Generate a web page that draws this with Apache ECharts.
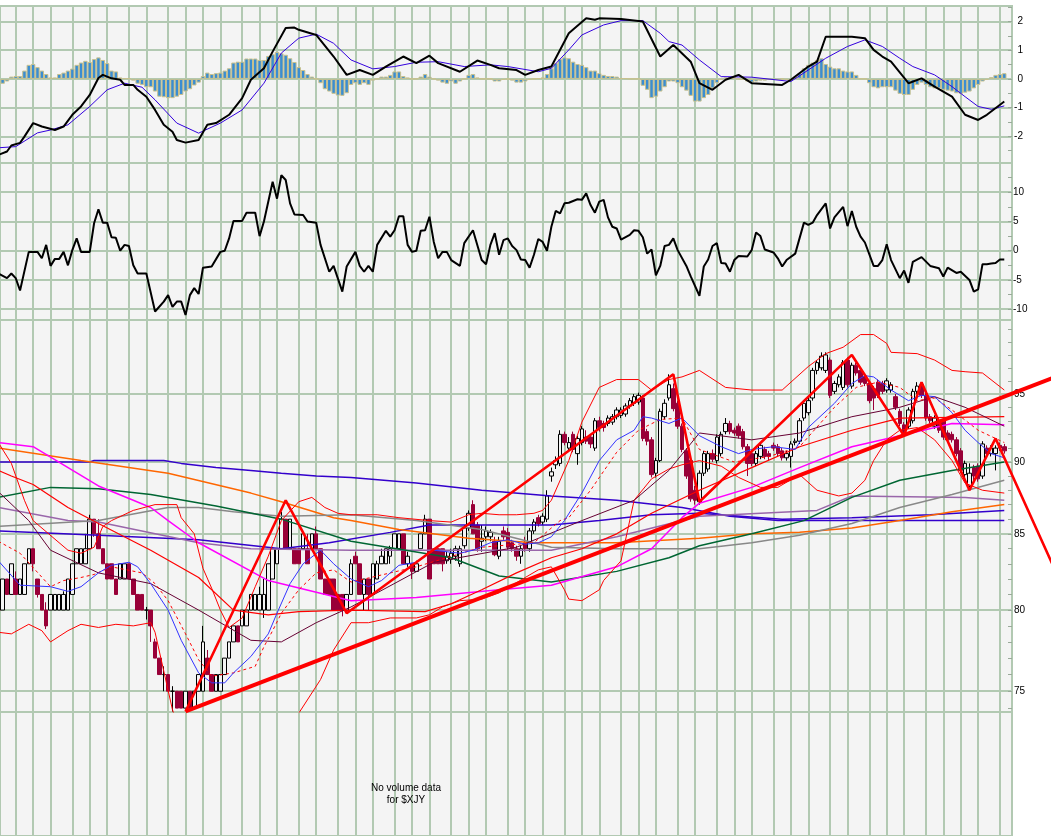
<!DOCTYPE html>
<html><head><meta charset="utf-8">
<script src="https://cdn.jsdelivr.net/npm/echarts@6/dist/echarts.min.js"></script>
<style>html,body{margin:0;padding:0;background:#fff}#c{width:1051px;height:836px}</style>
</head><body><div id="c"></div>
<script>
// ---------- tick labels ----------
const macdTicks = [-2, -1, 0, 1, 2];
const macdMinor = [-2.5, -1.5, -0.5, 0.5, 1.5, 2.5];
const oscTicks = [-10, -5, 0, 5, 10];
const oscMinor = [-7.5, -2.5, 2.5, 7.5, 12.5];
const priceTicks = [75, 80, 85, 90, 95];
const priceMinor = [74,76,77,78,79,81,82,83,84,86,87,88,89,91,92,93,94,96,97,98,99,100];
// bar indices where the vertical grid lines fall
const weekLines = [4,8,12,17,21,25,30,34,39,43,47,51,56,60,64,69,73,78,82,86,91,95,99,104,108,112,117,121,125,130,134,138,143,147,151,156,160,165,169,173,178,182,186,191,195,200,204,208,213,217,221,225,230];

// ---------- price candles [open, close, low, high], one per bar ----------
const candles = [
[81,80,79.6,81.5],[80,82,80,82],[82,81,81,82],[81,83,81,83],[82,81,81,82.5],[81,82,81,82],[81,83,81,83],[83,84,83,84],[84,83,82.5,84],[82,81,80.8,82],
[81,80,80,81],[80,79,78.8,80.5],[80,81,80,81],[80,81,80,81],[80,81,80,81],[80,81,80,81.2],[80,82,80,82],[81,83,81,83],[83,84,83,84],[83,84,83,84],
[83,84,83,85],[84,86,84,86.3],[86,85,84.8,86],[85,84,84,86],[84,83,83,84],[83,82,82,83],[83,82,82,83],[82,81,81,82],[82,83,82,83],[82,83,82,83],
[83,82,82,83],[82,81,81,82],[81,80,80,81],[81,80,80,81],[80,80,79.4,80.2],[80,79,78,80],[78,77,77,78.2],[77,76,76,77],[76,76,75,76.5],[76,75,75,76],
[75,75,73.8,75.3],[75,74,74,75],[75,74,74,75],[74,75,74,75],[75,74,74,75],[74,75,74,75],[75,76,75,76],[75,78,75,79],[77,76,76,77.5],[76,75,75,76],
[75,76,75,76],[75,76,75,76],[76,77,76,77],[77,78,77,78],[78,79,78,79],[79,78,78,79],[79,80,79,80],[79,80,79,80],[80,81,80,81],[80,81,80,81],
[80,81,80,81.5],[80,81,79.5,82],[80,83,80,83],[82,84,82,84],[83,84,83,84],[84,86,84,86.5],[86,84,84,86],[84,86,84,86],[84,83,83,84],[84,83,83,84],
[84,85,84,85],[84,83,83,85],[84,85,84,85],[85,84,84,85.5],[84,82,82,84],[82,81,81,82],[82,81,81,82],[82,80,80,82],[81,80,80,81],[81,80,79.6,81],
[80,81,80,81],[81,83,81,83.3],[83.5,83,83,83.8],[83,81,81,83],[81,82,80,82],[82,81,80,82],[81,83,81,83],[82,83,82,83.2],[83,83.5,83,84],[83,84,83,84],
[83.5,84,83,84.2],[84,85,84,85],[84,85,84,85],[85,83,83,85],[83,83.5,82.8,83.8],[83,82.5,82,83],[82.5,83,82.5,83.2],[84,85,84,85],[85,86,85,86.3],[86,82,82,86],
[84,83,83,84],[84,83,83,84],[84,83,82.5,84],[83.2,83.5,83,83.8],[83.3,83.7,83,84],[83.5,84,83.2,84.2],[83,84,82.8,84.2],[84.2,85.4,84,85.6],[85.4,86.4,85.2,86.6],[87,85,85,87.3],
[85.6,84,83.8,85.8],[84.5,84.7,83.8,85.6],[84.8,85.2,84.5,85.5],[84.8,85.1,84.5,85.3],[84.5,83.6,83.5,84.8],[83.5,84.5,83.3,84.8],[85.2,84.8,84.6,85.5],[85.1,84.1,83.9,85.4],[84.4,84,83.8,84.6],[84,83.5,83.2,84.2],
[83.5,84,83,84.2],[84.4,84,83.8,84.8],[84,85.2,83.8,85.4],[85.2,85.8,85,86],[86.1,85.7,85.5,86.3],[85.8,86.2,85.6,86.4],[86,87.6,85.8,88],[89,89.3,88.6,89.6],[89.8,90.1,89.5,90.4],[89.9,92,89.7,92.3],
[92,91.4,91.2,92.2],[91,91.4,90.8,91.8],[92,90.9,90.7,92.2],[90.6,91.7,89.8,91.9],[91.4,92.4,91.2,92.6],[91.8,91.5,91.3,92.3],[91.8,91.3,91,92],[91,93,90.8,93.2],[93,92.5,92.2,93.3],[92.8,92.5,92.2,93],
[92.8,93.2,92.6,93.4],[92.9,93.3,92.7,93.5],[93.3,93.8,93.1,94],[93.4,93.8,93.2,94],[93.5,94.1,93.3,94.3],[94.1,94.5,93.9,94.7],[94.3,94.8,94.1,95],[94.4,94.9,94.2,95.1],[94.7,91.7,91.5,94.9],[92.2,91.5,91.2,92.4],
[91.6,89.1,88.9,91.8],[89.2,90.1,88.9,90.3],[90.1,93.7,90,93.9],[93.3,94.3,93.1,94.6],[94.7,95.7,94.5,96.5],[95.4,93.9,93.7,95.8],[94.3,92.6,92.4,94.5],[92.6,90.9,90.7,92.8],[90.8,89,88.8,91],[90.1,87.4,87.2,90.3],
[88,87.3,87,88.3],[87.2,89.2,87,89.4],[89.2,90.6,89,90.8],[89.5,90.6,89.3,90.8],[90.6,90.2,90,90.9],[90.1,91.8,89.9,92],[90.6,92,90.4,92.2],[92.2,92.8,92,93.2],[92.8,92.2,92,93],[92.3,92.1,91.9,92.5],
[92.6,91.9,91.7,92.8],[92.2,91.1,90.9,92.4],[91.1,89.9,89,91.3],[90.6,89.9,89.7,90.8],[89.9,90.6,89.7,90.8],[90.4,91.2,90.2,91.4],[90.9,90.4,90.2,91.1],[90.6,90.4,90.1,90.8],[91.2,91,90.8,91.4],[91.1,90.6,90.4,91.3],
[90.8,90.3,90.1,91],[90.3,90.6,90.1,90.8],[90.4,91.3,89.6,91.5],[91.4,91.5,91.2,91.7],[91.5,93,91.3,93.2],[93.2,94.3,93,94.5],[93.6,94.5,93.4,94.8],[94.7,96.8,94.5,97],[96.8,97.4,96.5,97.6],[97,97.9,96.8,98.2],
[96.8,98,96.6,98.2],[97.6,94.9,94.7,97.8],[95.2,95.8,95,96],[95.7,96.3,95.5,96.5],[95.5,97.4,95.3,97.6],[97.6,95.7,95.5,97.8],[95.6,97.2,95.4,97.4],[97.2,96.6,96.4,97.4],[96.8,95.9,95.7,97],[96.3,95.8,95.6,96.5],
[95.8,94.5,94.3,96],[95.4,94.7,93.8,95.6],[95.9,94.9,94.7,96.1],[95.8,95.2,95,96],[95.3,96,95.1,96.2],[95.3,95.7,95.1,95.9],[94.8,94,93.8,95],[93.7,92.8,92.6,93.9],[92.7,92.2,92,92.9],[92.6,93.8,92.4,94],
[93,95.2,92.8,95.4],[95.2,95.6,95,95.9],[95.7,94.9,94.7,95.9],[94.9,93.2,93,95.1],[93.3,93,92.8,93.5],[92.6,93.2,92.4,93.4],[93,92.3,92.1,93.2],[93,91.8,91.6,93.2],[92.1,91.6,91.4,92.3],[92,91.6,91.4,92.2],
[91.6,90.6,90.4,91.8],[90.8,89.4,89.2,91],[89.1,89.9,88.9,90.1],[88.3,89.2,88,89.9],[89.6,89,88.5,89.8],[89.7,88.8,88.6,89.9],[89,91.3,88.8,91.5],[91,90.6,90.4,91.2],[90.6,91,90.4,91.2],[90.6,91,89.4,91.2],
[91.2,91,90.8,91.4],[91.1,90.8,90.6,91.3]
];

// ---------- MACD panel ----------
const macdHist = [
-0.17,-0.17,-0.09,0.08,0.1,0.1,0.29,0.49,0.52,0.41,
0.29,0.17,0.05,0.05,0.17,0.22,0.29,0.36,0.49,0.57,
0.63,0.59,0.69,0.75,0.66,0.55,0.29,0.26,0.05,0.02,
0.02,-0.06,-0.17,-0.21,-0.29,-0.29,-0.44,-0.62,-0.64,-0.67,
-0.67,-0.62,-0.56,-0.44,-0.36,-0.23,-0.13,0.1,0.22,0.17,
0.2,0.22,0.29,0.37,0.57,0.6,0.6,0.71,0.71,0.71,
0.66,0.66,0.8,0.86,0.94,0.89,0.84,0.72,0.59,0.41,
0.31,0.17,0.08,0,-0.15,-0.36,-0.44,-0.52,-0.58,-0.59,
-0.5,-0.21,-0.15,-0.21,-0.15,-0.21,-0.06,0,0.08,0.08,
0.14,0.26,0.26,0.1,0.05,0,0,0.08,0.17,0.08,
0,-0.06,-0.13,-0.17,-0.09,-0.17,-0.09,0,0.14,0.17,
0.05,0,0,0,-0.09,-0.09,-0.03,-0.01,-0.06,-0.13,
-0.13,-0.09,-0.03,0,0.02,0.05,0.17,0.37,0.55,0.69,
0.75,0.72,0.6,0.52,0.49,0.41,0.29,0.29,0.2,0.14,
0.1,0.1,0.08,0.02,0.02,0,0,0,-0.24,-0.38,
-0.67,-0.62,-0.44,-0.29,-0.09,-0.09,-0.15,-0.29,-0.41,-0.59,
-0.79,-0.79,-0.67,-0.56,-0.33,-0.15,-0.03,0.05,0.06,0.05,
0,-0.03,-0.09,-0.13,-0.09,-0.06,-0.06,-0.03,-0.03,-0.03,
-0.01,-0.03,-0.03,0.08,0.2,0.37,0.49,0.57,0.66,0.72,
0.52,0.43,0.37,0.37,0.29,0.26,0.26,0.14,0,0,
-0.15,-0.29,-0.33,-0.29,-0.29,-0.29,-0.41,-0.52,-0.56,-0.56,
-0.38,-0.21,-0.13,-0.21,-0.29,-0.33,-0.33,-0.38,-0.41,-0.44,
-0.5,-0.52,-0.48,-0.44,-0.33,-0.21,-0.09,-0.03,0.06,0.14,
0.17,0.2
];
// [bar, value]
const macdLine = [[0,-2.65],[2,-2.53],[3,-2.32],[5,-2.23],[6,-2.01],[8,-1.54],[10,-1.66],[13,-1.78],[15,-1.66],[17,-1.25],[19,-0.96],[21,-0.56],[23,0.03],[24,0.14],[26,0.02],[28,-0.03],[29,-0.21],[31,-0.21],[32,-0.38],[34,-0.62],[36,-1.08],[38,-1.6],[40,-1.84],[41,-2.13],[43,-2.22],[46,-2.13],[48,-1.6],[50,-1.54],[53,-1.25],[56,-0.67],[58,-0.03],[61,0.37],[63,0.95],[66,1.77],[68,1.79],[69,1.71],[73,1.53],[77,0.78],[80,0.14],[83,0.31],[86,0.14],[89,0.43],[93,0.78],[96,0.55],[99,0.81],[101,0.55],[106,0.25],[110,0.64],[113,0.49],[115,0.37],[119,0.31],[121,0.14],[124,0.31],[127,0.43],[131,1.59],[135,2.11],[137,2.06],[138,2.11],[143,2.09],[148,2.0],[152,0.78],[155,1.18],[159,0.6],[161,-0.15],[164,-0.38],[167,-0.03],[170,0.14],[173,-0.15],[180,-0.21],[182,-0.03],[186,0.43],[188,0.6],[190,1.47],[194,1.47],[196,1.47],[199,1.42],[201,1.01],[203,0.78],[205,0.6],[209,-0.15],[212,0.02],[215,-0.27],[219,-0.62],[222,-1.25],[225,-1.43],[227,-1.25],[231,-0.79]];
const signalLine = [[0,-2.4],[4,-2.36],[9,-1.88],[12,-1.78],[16,-1.6],[21,-0.96],[25,-0.38],[29,-0.15],[33,-0.29],[36,-0.73],[41,-1.54],[46,-1.89],[51,-1.54],[56,-1.08],[61,-0.15],[65,0.9],[69,1.42],[73,1.56],[77,1.24],[81,0.66],[86,0.35],[91,0.43],[96,0.58],[101,0.6],[107,0.43],[113,0.49],[117,0.43],[124,0.25],[127,0.37],[131,1.01],[134,1.53],[139,1.88],[143,2.03],[148,2.03],[152,1.59],[154,1.3],[157,1.18],[161,0.66],[166,0.08],[173,0.06],[182,-0.09],[186,0.31],[190,0.72],[195,1.13],[199,1.36],[203,1.13],[207,0.72],[210,0.43],[215,0.14],[219,-0.27],[222,-0.62],[225,-0.96],[228,-1.06],[231,-0.94]];

// ---------- oscillator panel [bar, value] ----------
const oscLine = [[0,-3.9],[2,-4.7],[3,-3.9],[4,-4.7],[5,-6.8],[7,-0.2],[9,-0.2],[10,-1.3],[11,1.0],[12,-2.6],[13,-1.4],[14,-1.4],[15,-0.2],[16,-2.5],[17,0.1],[18,2.1],[19,-0.2],[21,-0.2],[22,4.7],[23,7.1],[24,4.8],[25,4.8],[26,2.3],[27,2.2],[28,0],[29,1.0],[30,0.8],[31,-2.5],[32,-3.9],[34,-3.9],[36,-10.4],[38,-8.7],[39,-7.6],[40,-9.6],[41,-8.7],[42,-8.7],[43,-11.0],[44,-7.6],[45,-6.4],[46,-7.4],[47,-2.9],[49,-2.7],[51,-0.2],[52,0],[53,2.1],[54,5.1],[56,5.1],[57,6.5],[59,6.5],[60,2.5],[61,5.0],[63,11.8],[64,8.9],[65,12.9],[66,12.1],[67,8.1],[68,6.2],[70,6.1],[71,5.0],[73,4.8],[74,1.0],[76,-3.6],[77,-2.6],[79,-7.0],[80,-2.7],[82,-0.2],[83,-2.6],[84,-3.6],[85,-2.6],[86,-3.6],[87,1.0],[89,3.4],[90,2.4],[91,3.5],[92,5.9],[93,5.9],[94,1.0],[95,-0.2],[96,0],[97,3.4],[98,3.5],[99,5.8],[100,1.5],[101,-1.3],[102,-0.2],[103,-0.2],[104,-1.6],[106,-2.6],[107,1.3],[109,3.5],[111,-1.6],[112,-2.3],[113,1.0],[114,3.0],[115,-0.7],[116,1.8],[117,2.1],[118,0.8],[119,0.1],[120,-1.5],[121,-1.6],[122,-2.9],[123,-0.7],[124,2.0],[125,1.5],[126,0],[127,4.1],[128,6.8],[129,6.4],[130,8.1],[131,8.2],[133,8.8],[134,8.7],[135,9.8],[136,7.8],[137,6.5],[138,8.4],[139,8.7],[140,5.7],[141,4.1],[142,3.8],[143,1.9],[145,2.7],[146,3.5],[147,3.4],[148,2.3],[149,-0.5],[150,0.2],[151,-4.2],[152,-2.6],[153,0.8],[154,1.0],[155,2.1],[156,0.1],[158,-2.6],[159,-4.4],[161,-7.7],[162,-2.7],[163,-1.5],[164,0.8],[165,1.3],[166,-2.1],[167,-2.2],[168,-3.6],[169,-1.6],[170,-0.9],[172,-1.0],[173,0.1],[174,3.1],[175,2.5],[176,0.2],[178,-0.3],[179,-1.3],[180,-2.7],[181,-1.6],[183,-0.5],[185,4.8],[186,4.4],[187,4.8],[188,6.1],[190,8.1],[191,3.8],[192,5.7],[194,7.5],[195,4.2],[196,6.8],[197,4.1],[198,2.4],[199,1.4],[201,-2.6],[202,-2.6],[203,-1.6],[204,1.1],[205,-1.6],[207,-4.7],[208,-3.4],[209,-5.5],[210,-1.9],[212,-1.1],[214,-2.6],[216,-3.0],[217,-4.4],[218,-2.9],[220,-3.8],[221,-3.6],[223,-5.0],[224,-7.0],[225,-6.6],[226,-2.3],[227,-2.3],[228,-2.2],[229,-2.1],[230,-1.5],[231,-1.5]];

// ---------- price overlays [bar, price] ----------
const maBlue = [[0,83.2],[5,81.6],[12,81.5],[16,81.2],[19,81.5],[23,82.4],[26,82.9],[30,83.1],[32,82.8],[35,81.7],[39,80.0],[42,78.1],[46,76.1],[49,75.5],[52,75.5],[54,76.1],[58,77.1],[62,78.5],[64,79.8],[67,81.7],[70,83.0],[74,83.9],[77,83.0],[81,82.0],[85,81.5],[88,81.9],[92,82.9],[96,83.1],[100,83.9],[106,83.7],[109,83.9],[113,84.4],[117,84.6],[121,84.3],[124,84.4],[127,84.8],[130,85.9],[134,87.8],[138,90.1],[142,91.6],[146,92.3],[148,93.3],[150,93.2],[154,92.8],[157,93.2],[161,91.9],[166,91.1],[170,90.6],[173,90.9],[178,91.1],[183,90.9],[186,92.5],[192,94.3],[196,95.8],[199,96.4],[201,96.3],[205,95.3],[209,94.5],[212,94.9],[215,94.8],[219,93.6],[222,92.3],[225,91.4],[228,90.6],[231,90.3]];
const maRedDash = [[0,84.5],[5,83.7],[12,81.5],[15,81.9],[19,82.1],[22,82.3],[26,82.8],[33,82.4],[36,81.7],[39,80.6],[43,78.5],[46,76.9],[49,75.9],[54,76.1],[59,76.5],[61,77.7],[63,78.7],[65,79.8],[69,81.3],[73,82.4],[77,82.6],[81,81.8],[96,82.8],[111,84.1],[123,84.4],[129,85.9],[131,86.1],[136,88.0],[142,90.7],[147,92.3],[152,93.1],[157,93.2],[161,90.9],[169,90.0],[177,90.4],[184,91.1],[192,94.0],[197,95.5],[202,95.9],[207,95.5],[211,94.5],[215,94.7],[219,93.8],[225,92.3],[231,91.4]];
const maMaroon = [[0,87.9],[7,85.9],[12,83.9],[23,82.4],[35,81.7],[46,80.0],[58,78.1],[65,78.0],[73,79.2],[81,80.2],[100,83.1],[119,84.1],[134,85.9],[146,87.3],[154,89.4],[161,92.1],[173,91.6],[184,92.1],[196,93.3],[207,94.0],[215,94.8],[222,94.0],[231,92.6]];
const maRed = [[0,89.4],[3,89.0],[8,88.4],[16,86.8],[23,85.7],[35,83.9],[46,82.1],[54,80.0],[62,79.7],[69,79.9],[81,80.0],[98,79.9],[104,80.4],[111,81.3],[119,82.4],[127,83.4],[134,84.0],[142,85.0],[150,86.4],[161,88.0],[173,89.6],[184,91.1],[196,92.3],[207,93.2],[231,93.3]];
const bandUpper = [[0,91.4],[3,89.9],[6,87.3],[8,85.9],[16,83.9],[19,83.7],[22,84.1],[24,85.5],[26,85.9],[31,86.6],[36,87.0],[41,87.0],[42,86.1],[45,85.0],[47,82.7],[49,81.4],[51,80.0],[53,78.9],[56,79.5],[59,81.5],[62,83.5],[65,85.9],[69,87.2],[72,87.5],[75,86.8],[78,86.4],[81,86.3],[87,86.3],[92,86.1],[99,85.9],[104,85.8],[108,86.3],[111,86.4],[115,86.3],[119,86.3],[123,86.4],[125,86.6],[127,87.3],[131,90.1],[134,92.9],[138,95.5],[142,96.1],[147,96.1],[150,95.3],[154,96.1],[157,96.3],[161,96.8],[167,95.5],[173,95.3],[180,95.3],[186,97.1],[190,98.1],[194,98.6],[198,99.6],[201,99.6],[204,98.9],[205,98.2],[211,98.1],[215,97.6],[219,96.8],[222,96.7],[226,96.6],[231,95.3]];
const bandLower = [[0,78.6],[3,78.5],[7,79.1],[10,78.7],[12,78.0],[16,78.7],[19,79.1],[23,78.9],[27,79.1],[31,79.0],[35,79.2],[36,78.6],[40,73.9],[44,71.0],[50,70.2],[56,70.5],[63,72.0],[69,73.7],[74,75.7],[77,77.5],[81,79.2],[85,79.2],[90,79.5],[96,79.5],[99,79.7],[102,80.2],[106,80.6],[111,80.7],[115,81.1],[121,82.1],[124,82.6],[127,82.8],[130,81.3],[131,80.7],[134,80.6],[138,81.3],[139,81.9],[143,83.2],[146,87.3],[150,88.8],[154,89.5],[157,89.8],[161,90.1],[166,89.7],[170,88.9],[175,88.2],[179,88.2],[184,89.1],[188,88.0],[193,87.6],[196,87.8],[199,88.7],[201,90.1],[204,91.6],[207,92.3],[211,92.5],[215,91.6],[219,90.1],[222,88.5],[226,88.0],[231,87.8]];
const maMagenta = [[0,91.4],[8,91.1],[23,88.3],[31,87.3],[35,86.8],[39,85.9],[46,84.4],[62,81.9],[81,80.6],[96,80.8],[115,81.3],[127,81.6],[142,82.8],[150,84.0],[157,86.1],[161,87.1],[173,88.2],[184,89.6],[196,91.1],[207,91.9],[219,92.8],[231,92.7]];
const maGreen = [[0,87.5],[12,88.2],[23,88.1],[35,87.7],[50,86.9],[65,86.0],[81,84.5],[104,83.4],[115,82.2],[127,81.8],[142,82.5],[154,83.4],[161,84.2],[173,85.0],[185,85.9],[196,87.5],[207,88.7],[219,89.4],[231,90.0]];
const maGray = [[0,85.5],[23,85.9],[39,86.8],[46,86.8],[54,86.5],[65,86.2],[81,86.3],[96,85.9],[111,85.3],[127,84.1],[142,84.0],[161,84.0],[173,84.4],[184,84.9],[196,85.7],[207,86.8],[219,87.7],[231,88.7]];
const maPurple = [[0,86.8],[16,85.9],[23,85.8],[46,84.4],[58,84.0],[81,83.9],[127,83.9],[142,84.8],[161,86.2],[188,86.6],[196,87.6],[222,87.5],[231,87.3]];
const maOrange = [[0,91.0],[19,90.1],[39,89.2],[58,87.8],[65,87.2],[77,86.1],[81,85.9],[92,85.3],[108,84.7],[123,84.4],[142,84.4],[161,84.7],[173,85.0],[184,85.1],[196,85.4],[207,85.9],[219,86.5],[231,87.0]];
const maVioletA = [[0,90.0],[21,90.0],[22,90.1],[38,90.1],[42,89.9],[50,89.6],[58,89.4],[65,89.2],[73,89.0],[81,88.9],[96,88.5],[111,88.0],[127,87.6],[142,87.3],[157,86.8],[168,86.2],[179,85.9],[231,85.9]];
const maVioletB = [[0,85.2],[23,84.9],[46,84.6],[65,84.0],[76,84.4],[90,85.1],[99,85.6],[127,85.6],[138,85.9],[150,86.3],[161,86.4],[180,86.0],[196,86.1],[214,86.3],[231,86.6]];
// hand-drawn annotations (they run past the plot edge into the label margin)
const zigzag = [[43,73.8],[66,87.3],[80,79.8],[155,96.5],[161,87.2],[196,98.0],[208,91.9],[212,95.9],[223,88.0],[229,91.7],[242,83.0]];
const trendLine = [[43,73.8],[242,96.2]];

// ---------- build ----------
const GRIDC = '#b2c9b2', BG = '#f4f4f4';
const BAR_PX = 4.355;
const X_MIN = 0.395, X_MAX = X_MIN + 1012 / BAR_PX, X_MAX_FULL = X_MIN + 1051 / BAR_PX;
const PMIN = Math.log(73.77), PMAX = Math.log(100.76);
const L = Math.log;
const lnPts = a => a.map(p => [p[0], L(p[1])]);
const FONT = 'Liberation Sans';

const grids = [
  {top: 6, height: 157}, {top: 163, height: 157}, {top: 320, height: 392}, {top: 712, height: 130}
].map(g => Object.assign({left: 0, right: 39, show: true, backgroundColor: BG, borderColor: GRIDC, borderWidth: 2}, g));
// overlay grid spanning the full width for the drawn trend lines
grids.push({left: 0, right: 0, top: 320, height: 392, show: false});

const xAxes = [0, 1, 2, 3].map(i => ({
  gridIndex: i, type: 'value', min: X_MIN, max: X_MAX,
  axisLine: {show: false}, axisLabel: {show: false},
  axisTick: {show: false, customValues: weekLines},
  splitLine: {show: true, lineStyle: {color: GRIDC, width: 2}}
}));
xAxes.push({gridIndex: 4, type: 'value', min: X_MIN, max: X_MAX_FULL, show: false});

function majorAxis(gi, min, max, ticks, fmt, align, margin) {
  return {gridIndex: gi, type: 'value', position: 'right', min, max,
    axisLine: {show: false},
    axisTick: {show: false, customValues: ticks},
    axisLabel: {show: true, customValues: ticks, formatter: fmt, color: '#000', fontSize: 10, fontFamily: FONT, margin, align},
    splitLine: {show: true, lineStyle: {color: GRIDC, width: 2}}};
}
function minorAxis(gi, min, max, ticks) {
  return {gridIndex: gi, type: 'value', position: 'right', min, max,
    axisLine: {show: false}, axisLabel: {show: false}, splitLine: {show: false},
    axisTick: {show: true, inside: true, length: 4, customValues: ticks, lineStyle: {color: '#9aaa9a', width: 1}}};
}
const yAxes = [
  majorAxis(0, -2.93, 2.54, macdTicks, v => String(v), 'right', 11),
  minorAxis(0, -2.93, 2.54, macdMinor.concat(macdTicks)),
  majorAxis(1, -11.85, 15.0, oscTicks, v => String(v), 'left', 1),
  minorAxis(1, -11.85, 15.0, oscMinor.concat(oscTicks)),
  majorAxis(2, PMIN, PMAX, priceTicks.map(L), v => String(Math.round(Math.exp(v))), 'left', 2),
  minorAxis(2, PMIN, PMAX, priceMinor.concat(priceTicks).map(L)),
  {gridIndex: 3, type: 'value', min: 0, max: 1, show: false},
  {gridIndex: 4, type: 'value', min: PMIN, max: PMAX, show: false}
];

const line = (data, color, width, extra) => Object.assign({
  type: 'line', xAxisIndex: 2, yAxisIndex: 4, data: lnPts(data), showSymbol: false, silent: true,
  lineStyle: {color, width}
}, extra || {});

const series = [
  {type: 'bar', xAxisIndex: 0, yAxisIndex: 0, barWidth: 4.4, silent: true,
   data: macdHist.map((v, i) => [i, v]),
   itemStyle: {color: '#3a8dd2', borderColor: '#c9c18c', borderWidth: 1}},
  {type: 'line', xAxisIndex: 0, yAxisIndex: 0, data: signalLine, showSymbol: false, silent: true, lineStyle: {color: '#3300dd', width: 1}},
  {type: 'line', xAxisIndex: 0, yAxisIndex: 0, data: macdLine, showSymbol: false, silent: true, lineStyle: {color: '#000', width: 2}},
  {type: 'line', xAxisIndex: 1, yAxisIndex: 2, data: oscLine, showSymbol: false, silent: true, lineStyle: {color: '#000', width: 2}},
  {type: 'candlestick', xAxisIndex: 2, yAxisIndex: 4, barWidth: 4, silent: true,
   dimensions: ['x', 'open', 'close', 'lowest', 'highest'],
   encode: {x: 0, y: [1, 2, 3, 4]},
   data: candles.map((c, i) => [i, L(c[0]), L(c[1]), L(c[2]), L(c[3])]),
   itemStyle: {color: BG, color0: '#990038', borderColor: '#000', borderColor0: '#990038', borderWidth: 1}},
  line(maVioletA, '#3300cc', 1.5),
  line(maVioletB, '#3300cc', 1.5),
  line(maOrange, '#ff6600', 1.5),
  line(maPurple, '#9966aa', 1.5),
  line(maGray, '#888888', 1.5),
  line(maGreen, '#006633', 1.5),
  line(maMagenta, '#ff00ff', 1.5),
  line(maRed, '#ff0000', 1.2),
  line(bandUpper, '#ff0000', 1),
  line(bandLower, '#ff0000', 1),
  line(maMaroon, '#660033', 1),
  line(maRedDash, '#ff0000', 1, {lineStyle: {color: '#ff0000', width: 1, type: [3, 3]}}),
  line(maBlue, '#3333ff', 1),
  line(trendLine, '#ff0000', 4, {xAxisIndex: 4, yAxisIndex: 7, z: 5}),
  line(zigzag, '#ff0000', 2.6, {xAxisIndex: 4, yAxisIndex: 7, z: 5})
];

const chart = echarts.init(document.getElementById('c'), null, {renderer: 'canvas'});
chart.setOption({
  animation: false,
  backgroundColor: '#ffffff',
  grid: grids, xAxis: xAxes, yAxis: yAxes, series,
  graphic: [{type: 'text', x: 406, y: 782, z: 100,
    style: {text: 'No volume data\nfor $XJY', align: 'center', font: '10px "Liberation Sans"', fill: '#000', lineHeight: 12}}]
});
</script>
</body></html>
